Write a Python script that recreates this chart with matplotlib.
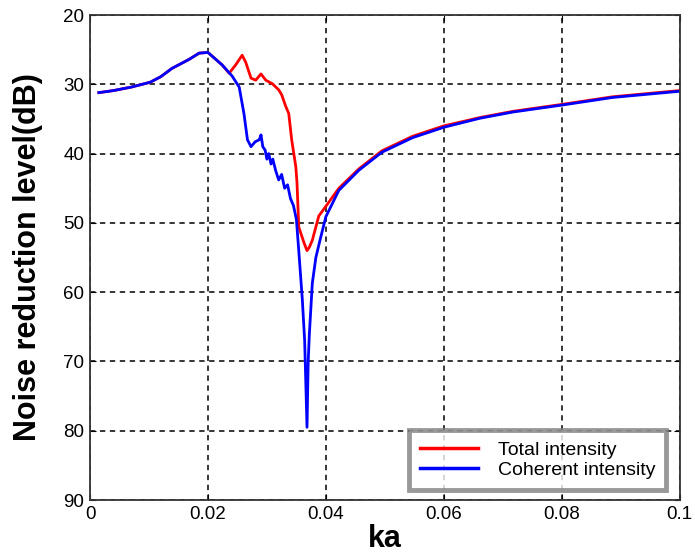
import numpy as np
import matplotlib.pyplot as plt

# coherent intensity (blue)
ka_coh = [0.0015, 0.004, 0.007, 0.0102, 0.012, 0.0139, 0.0168, 0.0185, 0.0200,
          0.0224, 0.0241, 0.0253, 0.0261, 0.0267, 0.0273, 0.0280, 0.0287, 0.0290,
          0.0293, 0.0297, 0.0300, 0.0303, 0.0307, 0.0310, 0.0315, 0.0320, 0.0325,
          0.0330, 0.0335, 0.0340, 0.0345, 0.0350, 0.0354, 0.0360, 0.0364, 0.0368,
          0.0370, 0.0372, 0.0377, 0.0383, 0.0390, 0.0400, 0.0422, 0.0456, 0.0495,
          0.0547, 0.0600, 0.0661, 0.0717, 0.0800, 0.0886, 0.1000]
nr_coh = [31.2, 30.9, 30.4, 29.7, 28.9, 27.7, 26.4, 25.5, 25.4,
          27.2, 28.8, 30.4, 34.2, 38.0, 39.0, 38.3, 38.0, 37.3,
          39.0, 39.5, 40.8, 40.0, 41.5, 40.8, 42.5, 43.8, 43.0,
          45.0, 44.5, 46.5, 47.5, 49.5, 54.0, 61.0, 67.0, 79.5,
          70.0, 66.0, 58.7, 55.0, 52.5, 49.1, 45.3, 42.4, 39.8,
          37.7, 36.2, 34.9, 34.0, 33.0, 31.9, 31.0]

# total intensity (red)
ka_tot = [0.0015, 0.004, 0.007, 0.0102, 0.012, 0.0139, 0.0168, 0.0185, 0.0200,
          0.0224, 0.0236, 0.0247, 0.0258, 0.0264, 0.0273, 0.0281, 0.0290, 0.0298,
          0.0309, 0.0320, 0.0325, 0.0332, 0.0337, 0.0342, 0.0349, 0.0351, 0.0354,
          0.0363, 0.0368, 0.0372, 0.0377, 0.0388, 0.0400, 0.0422, 0.0456, 0.0495,
          0.0547, 0.0600, 0.0661, 0.0717, 0.0800, 0.0886, 0.1000]
nr_tot = [31.2, 30.9, 30.4, 29.7, 28.9, 27.7, 26.4, 25.5, 25.4,
          27.2, 28.4, 27.2, 25.8, 26.8, 29.1, 29.4, 28.5, 29.4,
          29.9, 30.8, 31.5, 33.2, 34.2, 38.0, 41.9, 44.2, 50.6,
          52.9, 54.0, 53.5, 52.5, 49.0, 47.6, 45.0, 42.2, 39.6,
          37.5, 36.0, 34.8, 33.9, 32.9, 31.8, 30.9]

xticks = [0, 0.02, 0.04, 0.06, 0.08, 0.1]
xticklabels = ['0', '0.02', '0.04', '0.06', '0.08', '0.1']
yticks = [20, 30, 40, 50, 60, 70, 80, 90]

sans = ['Liberation Sans', 'DejaVu Sans']

fig = plt.figure(figsize=(6.95, 5.57), dpi=100)
ax = fig.add_axes([0.1295, 0.1023, 0.8485, 0.8707])

ax.plot(ka_tot, nr_tot, color='#ff0000', lw=2, label='Total intensity')
ax.plot(ka_coh, nr_coh, color='#0000ff', lw=2, label='Coherent intensity')

ax.set_xlim(0, 0.1)
ax.set_ylim(90, 20)
ax.set_xticks(xticks)
ax.set_xticklabels(xticklabels, family=sans, fontsize=13.5)
ax.set_yticks(yticks)
ax.set_yticklabels([str(v) for v in yticks], family=sans, fontsize=13.5)
ax.tick_params(direction='in', top=True, right=True, length=4, pad=4)
ax.grid(True, color='black', linestyle=(0, (3.5, 3)), linewidth=1.1)
for s in ax.spines.values():
    s.set_linewidth(1.3)
    s.set_color('#333333')

ax.set_xlabel('ka', family=sans, fontsize=22, fontweight='bold', labelpad=1)
ax.set_ylabel('Noise reduction level(dB)', family=sans,
              fontsize=22, fontweight='bold', labelpad=15)

leg = ax.legend(loc='lower right', bbox_to_anchor=(0.983, 0.013), fancybox=False,
                prop={'family': sans, 'size': 14}, handlelength=3.0,
                borderpad=0.55, labelspacing=0.15, handletextpad=1.0,
                borderaxespad=0.2)
leg.get_frame().set_edgecolor('#808080')
leg.get_frame().set_linewidth(3.5)
for h in leg.get_lines():
    h.set_linewidth(2.5)

fig.savefig('out.png', dpi=100)
